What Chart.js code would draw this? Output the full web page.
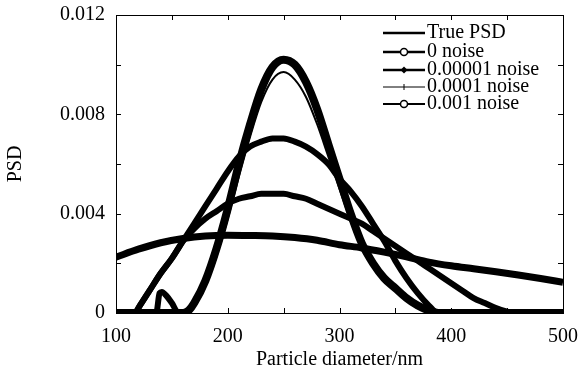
<!DOCTYPE html>
<html>
<head>
<meta charset="utf-8">
<script src="https://cdn.jsdelivr.net/npm/chart.js@4.4.1/dist/chart.umd.min.js"></script>
<style>
  html, body { margin: 0; padding: 0; background: #fff; }
  #wrap { width: 581px; height: 374px; }
</style>
</head>
<body>
<div id="wrap"><canvas id="c" width="581" height="374"></canvas></div>
<script>
// ---- data ----
const seriesLabels = ['True PSD', '0 noise', '0.00001 noise', '0.0001 noise', '0.001 noise'];

const truePsdX = [100,160,165,170,180,190,200,210,220,230,240,250,260,270,280,290,300,310,320,330,340,350,360,370,380,390,500];
const truePsdY = [0,0,0.0001,0.0004,0.0013,0.0026,0.0042,0.006,0.0076,0.009,0.0099,0.0102,0.0100,0.0093,0.0082,0.0068,0.0054,0.0040,0.0028,0.0020,0.0014,0.0010,0.0006,0.0003,0.0001,0,0];

const noise0X = [100,117,120,130,140,150,160,170,180,190,200,210,220,230,240,250,260,270,280,290,300,310,320,330,340,350,360,370,380,388,500];
const noise0Y = [0,0,0.0002,0.0009,0.0016,0.0022,0.0029,0.0036,0.0043,0.0050,0.0057,0.0063,0.0067,0.0069,0.00703,0.00703,0.0069,0.0067,0.0064,0.0060,0.0054,0.0049,0.0043,0.0036,0.0029,0.0021,0.0014,0.0008,0.0003,0,0];

const noise1X = [100,117,120,130,140,150,160,170,180,190,200,210,220,230,240,250,260,270,280,290,300,310,320,330,340,350,360,370,380,390,400,410,420,430,440,450,456,500];
const noise1Y = [0,0,0.0002,0.0009,0.0016,0.0022,0.0029,0.0034,0.0038,0.0041,0.0044,0.0046,0.0047,0.0048,0.0048,0.0048,0.0047,0.0046,0.0044,0.0042,0.0040,0.0038,0.0036,0.0033,0.0030,0.0027,0.0024,0.0021,0.0018,0.0015,0.0012,0.0009,0.0006,0.0004,0.0002,0.00005,0,0];

const noise2X = [100,136,139,141,145,150,156,160,170,180,190,200,210,220,230,240,250,260,270,280,290,300,310,320,330,340,350,360,370,380,390,500];
const noise2Y = [0,0,0.0008,0.00085,0.0007,0.0004,0,0,0.0003,0.0011,0.0023,0.0038,0.0055,0.0071,0.0085,0.0094,0.0097,0.0094,0.0087,0.0076,0.0063,0.0050,0.0037,0.0026,0.0019,0.0013,0.0009,0.0005,0.0002,0.0001,0,0];

const noise3X = [100,120,140,160,180,200,220,240,260,280,300,320,340,360,380,400,420,440,460,480,500];
const noise3Y = [0.00225,0.00257,0.00283,0.0030,0.0031,0.00313,0.00312,0.0031,0.00304,0.00293,0.00275,0.00262,0.00245,0.00226,0.00205,0.0019,0.00178,0.00166,0.00153,0.00139,0.00124];

const xMajorTicks = [100,200,300,400,500];
const xMinorTicks = [150,250,350,450];
const yMajorTicks = [0,0.004,0.008,0.012];
const yMinorTicks = [0.002,0.006,0.010];

function pts(xs, ys) { return xs.map((x, i) => ({x: x, y: ys[i]})); }

const FONT = 'Liberation Serif, Times New Roman, serif';

const legendStyles = [
  {w: 2.5, marker: 'none'},
  {w: 2.5, marker: 'circle'},
  {w: 2.5, marker: 'diamond'},
  {w: 1, marker: 'plus'},
  {w: 2, marker: 'circle'}
];

const framePlugin = {
  id: 'frame',
  afterDatasetsDraw(chart) {
    const ctx = chart.ctx, a = chart.chartArea;
    const xs = chart.scales.x, ys = chart.scales.y;
    ctx.save();
    ctx.strokeStyle = '#000';
    ctx.lineWidth = 1;
    ctx.strokeRect(Math.round(a.left) + 0.5, Math.round(a.top) + 0.5, Math.round(a.right - a.left), Math.round(a.bottom - a.top));
    const L = 5;
    ctx.beginPath();
    xMajorTicks.concat(xMinorTicks).forEach(v => {
      const p = Math.round(xs.getPixelForValue(v)) + 0.5;
      ctx.moveTo(p, a.bottom); ctx.lineTo(p, a.bottom - L);
      ctx.moveTo(p, a.top); ctx.lineTo(p, a.top + L);
    });
    yMajorTicks.concat(yMinorTicks).forEach(v => {
      const p = Math.round(ys.getPixelForValue(v)) + 0.5;
      ctx.moveTo(a.left, p); ctx.lineTo(a.left + L, p);
      ctx.moveTo(a.right, p); ctx.lineTo(a.right - L, p);
    });
    ctx.stroke();

    // legend
    const x0 = 383, x1 = 425, tx = 427;
    const rows = [33, 52, 70, 87, 104];
    ctx.font = '20px ' + FONT;
    ctx.fillStyle = '#000';
    ctx.textBaseline = 'middle';
    ctx.textAlign = 'left';
    chart.data.datasets.forEach((ds, i) => {
      if (i >= legendStyles.length) return;
      const st = legendStyles[i];
      const y = rows[i];
      ctx.lineWidth = st.w;
      ctx.beginPath(); ctx.moveTo(x0, y); ctx.lineTo(x1, y); ctx.stroke();
      const cx = (x0 + x1) / 2;
      ctx.lineWidth = 1.5;
      if (st.marker === 'circle') {
        ctx.beginPath(); ctx.arc(cx, y, 3.5, 0, Math.PI * 2);
        ctx.fillStyle = '#fff'; ctx.fill(); ctx.stroke();
      } else if (st.marker === 'diamond') {
        ctx.beginPath(); ctx.moveTo(cx, y - 3.5); ctx.lineTo(cx + 3.5, y); ctx.lineTo(cx, y + 3.5); ctx.lineTo(cx - 3.5, y); ctx.closePath();
        ctx.fillStyle = '#000'; ctx.fill();
      } else if (st.marker === 'plus') {
        ctx.lineWidth = 1;
        ctx.beginPath(); ctx.moveTo(cx, y - 3); ctx.lineTo(cx, y + 3); ctx.stroke();
      }
      ctx.fillStyle = '#000';
      ctx.fillText(ds.label, tx, y);
    });
    ctx.restore();
  }
};

const common = {
  borderColor: '#000',
  backgroundColor: '#000',
  pointRadius: 0,
  fill: false,
  cubicInterpolationMode: 'monotone'
};

new Chart(document.getElementById('c'), {
  type: 'line',
  data: {
    datasets: [
      Object.assign({label: seriesLabels[0], data: pts(truePsdX, truePsdY), borderWidth: 8}, common),
      Object.assign({label: seriesLabels[1], data: pts(noise0X, noise0Y), borderWidth: 6}, common),
      Object.assign({label: seriesLabels[2], data: pts(noise1X, noise1Y), borderWidth: 6}, common),
      Object.assign({label: seriesLabels[3], data: pts(noise2X, noise2Y), borderWidth: 2,
        segment: { borderWidth: c => (c.p0.parsed.x >= 136 && c.p0.parsed.x < 156) ? 6 : 2 }}, common),
      Object.assign({label: seriesLabels[4], data: pts(noise3X, noise3Y), borderWidth: 7}, common)
    ]
  },
  options: {
    responsive: false,
    animation: false,
    events: [],
    layout: { padding: { top: 15, right: 18, left: 0, bottom: 0 } },
    plugins: { legend: { display: false }, tooltip: { enabled: false } },
    scales: {
      x: {
        type: 'linear', min: 100, max: 500,
        grid: { display: false, drawTicks: false },
        border: { display: false },
        ticks: { stepSize: 100, color: '#000', font: { family: FONT, size: 20 }, padding: 12, maxRotation: 0 },
        title: { display: true, text: 'Particle diameter/nm', color: '#000', font: { family: FONT, size: 20 }, padding: { top: 0, bottom: 2 } },
        afterFit: s => { s.height = 61; s.paddingLeft = 0; s.paddingRight = 0; }
      },
      y: {
        type: 'linear', min: 0, max: 0.012,
        grid: { display: false, drawTicks: false },
        border: { display: false },
        ticks: { stepSize: 0.004, color: '#000', font: { family: FONT, size: 20 }, padding: 11,
          callback: v => (Math.abs(v) < 1e-9 ? '0' : v.toFixed(3)) },
        title: { display: true, text: 'PSD', color: '#000', font: { family: FONT, size: 20 }, padding: { top: 4, bottom: 0 } },
        afterFit: s => { s.width = 116; s.paddingTop = 0; s.paddingBottom = 0; }
      }
    }
  },
  plugins: [framePlugin]
});
</script>
</body>
</html>
